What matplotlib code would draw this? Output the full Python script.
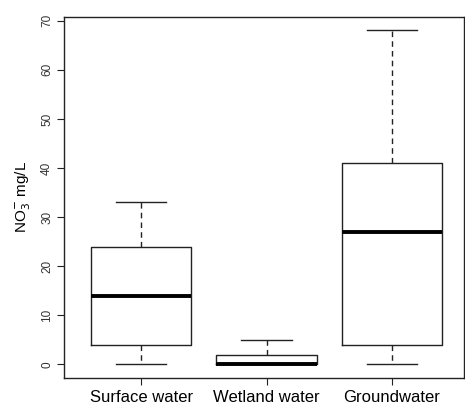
import matplotlib
matplotlib.use("Agg")
from matplotlib import pyplot as plt

# dados (NO3- mg/L)
categories = ["Surface water", "Wetland water", "Groundwater"]
whisker_low = [0, 0, 0]
q1 = [4, 0, 4]
medians = [14, 0, 27]
q3 = [24, 2, 41]
whisker_high = [33, 5, 68]

plt.rcParams['font.family'] = ['Liberation Sans', 'DejaVu Sans']

fig = plt.figure(figsize=(4.65, 4.08), dpi=100)
ax = fig.add_axes([0.138, 0.074, 0.86, 0.884])

stats = []
for i in range(len(categories)):
	stats.append({"label": categories[i], "whislo": whisker_low[i], "q1": q1[i],
		"med": medians[i], "q3": q3[i], "whishi": whisker_high[i], "fliers": []})

ax.bxp(stats, positions=[1, 2, 3], widths=0.8, showfliers=False,
	boxprops=dict(color="#222222", linewidth=1.0),
	medianprops=dict(color="black", linewidth=2.8, solid_capstyle="butt"),
	whiskerprops=dict(color="#222222", linewidth=1.0, linestyle=(0, (4, 3))),
	capprops=dict(color="#222222", linewidth=1.0),
	capwidths=0.4)

ax.set_xlim(0.386, 3.575)
ax.set_ylim(-2.72, 70.72)
ax.set_yticks(range(0, 71, 10))
ax.set_yticklabels([str(v) for v in range(0, 71, 10)], rotation=90, va="center", fontsize=8.5, color="#333333")
ax.tick_params(axis="y", length=5, pad=3, width=0.8, color="#222222")
ax.tick_params(axis="x", length=5, pad=4, width=0.8, color="#222222", labelsize=12)
for s in ax.spines.values():
	s.set_linewidth(1.0)
	s.set_color("#222222")

ax.set_ylabel("NO$_3^{-}$ mg/L", fontsize=11, labelpad=6)

plt.savefig("out.png", dpi=100)
